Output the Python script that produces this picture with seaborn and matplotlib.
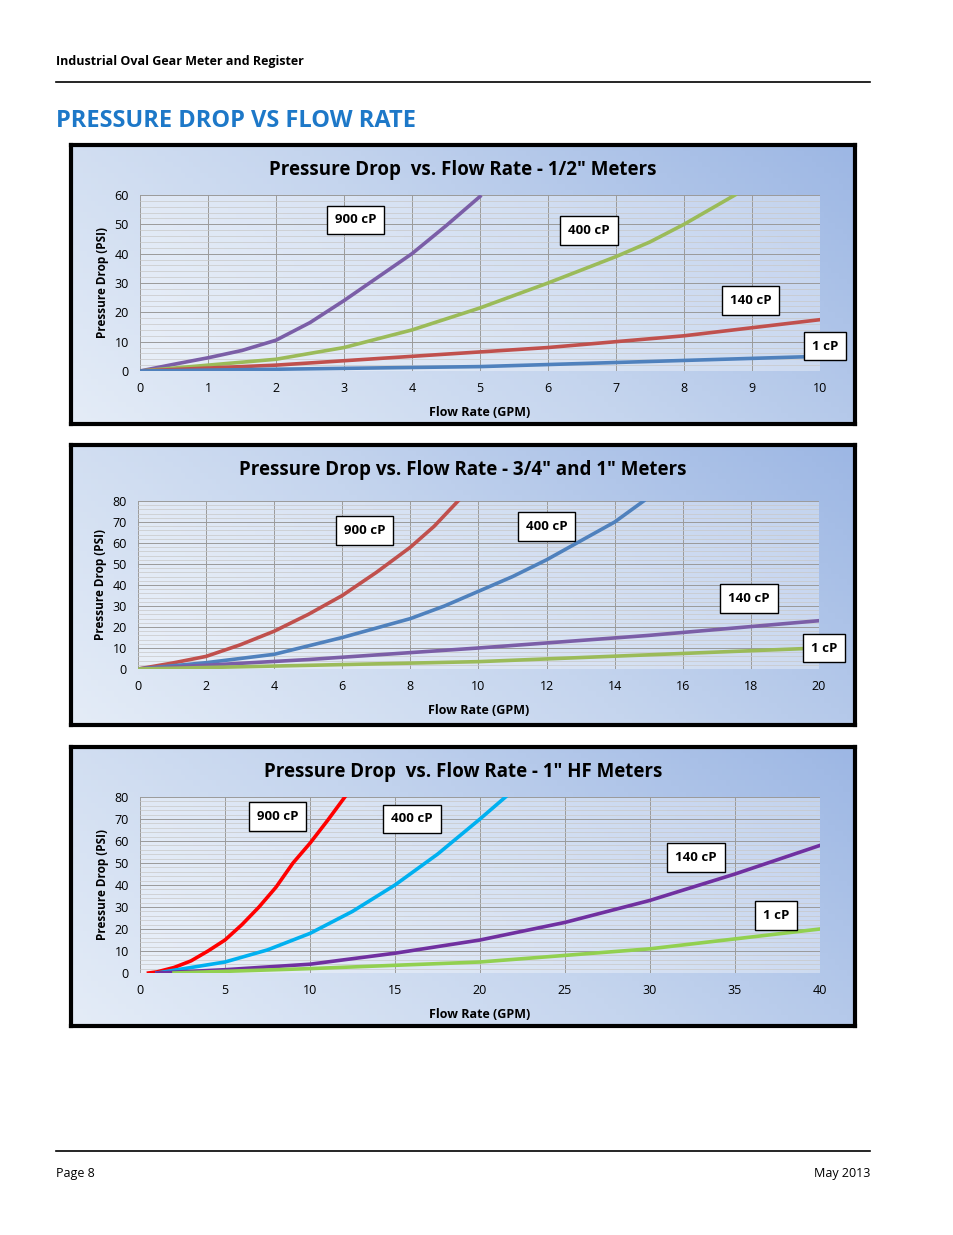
import numpy as np
import pandas as pd
import seaborn as sns
import matplotlib
matplotlib.use("Agg")
import matplotlib.pyplot as plt
from matplotlib.colors import LinearSegmentedColormap

plt.rcParams["font.family"] = "Open Sans"

W, H = 954, 1235
# ---- data ----
c1_titles = "Pressure Drop  vs. Flow Rate - 1/2\" Meters"
c1_900_x = [0, 0.5, 1, 1.5, 2, 2.5, 3, 3.5, 4, 4.5, 5]
c1_900_y = [0, 2.3, 4.5, 7, 10.5, 16.5, 24, 32, 40, 49.5, 59.5]
c1_400_x = [0, 1, 2, 3, 4, 5, 6, 7, 7.5, 8, 8.75]
c1_400_y = [0, 2, 4, 8, 14, 21.5, 30, 39, 44, 50, 60]
c1_140_x = [0, 2, 4, 6, 8, 10]
c1_140_y = [0, 2, 5, 8, 12, 17.5]
c1_1_x = [0, 5, 10]
c1_1_y = [0, 1.5, 5]

c2_title = "Pressure Drop vs. Flow Rate - 3/4\" and 1\" Meters"
c2_900_x = [0, 1, 2, 3, 4, 5, 6, 7, 8, 8.7, 9.4]
c2_900_y = [0, 2.8, 6, 11.5, 18, 26, 35, 46, 58, 68, 80]
c2_400_x = [0, 2, 4, 6, 8, 9, 10, 11, 12, 13, 14, 14.85]
c2_400_y = [0, 3, 7, 15, 24, 30, 37, 44, 52, 61, 70, 80]
c2_140_x = [0, 5, 10, 15, 20]
c2_140_y = [0, 4.5, 10, 16, 23]
c2_1_x = [0, 10, 20]
c2_1_y = [0, 3.5, 10]

c3_title = "Pressure Drop  vs. Flow Rate - 1\" HF Meters"
c3_900_x = [0.5, 1, 2, 3, 4, 5, 6, 7, 8, 9, 10, 11, 12.05]
c3_900_y = [0, 0.5, 2.5, 5.5, 10, 15, 22, 30, 39, 50, 59, 69, 80]
c3_400_x = [1, 3, 5, 7.5, 10, 12.5, 15, 17.5, 20, 21.5]
c3_400_y = [0, 2.5, 5, 10.5, 18, 28, 40, 54, 70, 80]
c3_140_x = [1, 5, 10, 15, 20, 25, 30, 35, 40]
c3_140_y = [0, 1.5, 4, 9, 15, 23, 33, 45, 58]
c3_1_x = [2, 10, 20, 30, 40]
c3_1_y = [0, 2, 5, 11, 20]

fig = plt.figure(figsize=(W/100, H/100), dpi=100)

def rect(x0, y0, x1, y1):
    return [x0/W, 1-y1/H, (x1-x0)/W, (y1-y0)/H]

fig.text(56/W, 1-61/H, "Industrial Oval Gear Meter and Register", fontsize=9, fontweight="bold", va="center")
fig.add_artist(plt.Line2D([56/W, 870/W], [1-82/H]*2, color="black", lw=1.2))
fig.text(56/W, 1-121/H, "PRESSURE DROP VS FLOW RATE", fontsize=17, fontweight="bold", color="#1d78c8", va="center")
fig.add_artist(plt.Line2D([56/W, 870/W], [1-1151/H]*2, color="black", lw=1.2))
fig.text(56/W, 1-1173/H, "Page 8", fontsize=9, va="center")
fig.text(870/W, 1-1173/H, "May 2013", fontsize=9, va="center", ha="right")

cmap = LinearSegmentedColormap.from_list("g", ["#e4ecf7", "#c5d5ee", "#9db7e4"])
grad = np.add.outer(np.linspace(0.3, 0, 50), np.linspace(0, 0.7, 200))

def panel(box, plot, title, xmax, ymax, xstep, ystep, xminor, series, labels):
    x0, y0, x1, y1 = box
    bg = fig.add_axes(rect(x0, y0, x1, y1))
    bg.imshow(grad, cmap=cmap, aspect="auto", extent=[0, 1, 0, 1], vmin=0, vmax=1)
    bg.set_xlim(0, 1); bg.set_ylim(0, 1)
    bg.set_xticks([]); bg.set_yticks([])
    for s in bg.spines.values():
        s.set_linewidth(3); s.set_color("black")
    bg.text(0.5, 1-(25/(y1-y0)), title, ha="center", va="center", fontsize=13.5, fontweight="bold", transform=bg.transAxes)
    ax = fig.add_axes(rect(*plot))
    ax.set_facecolor((1, 1, 1, 0.35))
    for xs, ys, col in series:
        df = pd.DataFrame({"x": xs, "y": ys})
        sns.lineplot(data=df, x="x", y="y", ax=ax, color=col, lw=2.6, sort=False)
    ax.set_xlim(0, xmax); ax.set_ylim(0, ymax)
    ax.set_xticks(np.arange(0, xmax+0.01, xstep))
    ax.set_yticks(np.arange(0, ymax+0.01, ystep))
    ax.set_xticks(np.arange(0, xmax+0.01, xminor), minor=True)
    ax.set_yticks(np.arange(0, ymax+0.01, 2), minor=True)
    ax.grid(True, which="major", color="#9a9a9a", lw=0.7)
    ax.grid(True, which="minor", color="#c8c8c8", lw=0.5)
    ax.tick_params(which="both", length=0, labelsize=9, pad=8)
    ax.set_axisbelow(True)
    for s in ax.spines.values():
        s.set_visible(False)
    ax.set_xlabel("Flow Rate (GPM)", fontsize=9, fontweight="bold", labelpad=8)
    ax.set_ylabel("Pressure Drop (PSI)", fontsize=8.5, fontweight="bold", labelpad=4)
    for txt, lx, ly in labels:
        ax.text(lx, ly, txt, fontsize=9.5, fontweight="bold", ha="center", va="center",
                bbox=dict(boxstyle="square,pad=0.6", fc="white", ec="black", lw=1), zorder=5, clip_on=False)
    return ax

panel((71, 145, 855, 424), (140, 195, 820, 371), c1_titles, 10, 60, 1, 10, 1,
      [(c1_900_x, c1_900_y, "#7b5ea7"), (c1_400_x, c1_400_y, "#9bbb59"),
       (c1_140_x, c1_140_y, "#c0504d"), (c1_1_x, c1_1_y, "#4f81bd")],
      [("900 cP", 3.17, 51.5), ("400 cP", 6.6, 48), ("140 cP", 8.98, 24), ("1 cP", 10.07, 8.5)])

panel((71, 445, 855, 725), (138, 501, 819, 669), c2_title, 20, 80, 2, 10, 2,
      [(c2_900_x, c2_900_y, "#c0504d"), (c2_400_x, c2_400_y, "#4f81bd"),
       (c2_140_x, c2_140_y, "#7b5ea7"), (c2_1_x, c2_1_y, "#9bbb59")],
      [("900 cP", 6.65, 66), ("400 cP", 12.0, 68), ("140 cP", 17.95, 33.5), ("1 cP", 20.15, 10)])

panel((71, 747, 855, 1026), (140, 797, 820, 973), c3_title, 40, 80, 5, 10, 5,
      [(c3_900_x, c3_900_y, "#ff0000"), (c3_400_x, c3_400_y, "#00b0f0"),
       (c3_140_x, c3_140_y, "#7030a0"), (c3_1_x, c3_1_y, "#92d050")],
      [("900 cP", 8.1, 71), ("400 cP", 16.0, 70), ("140 cP", 32.7, 52.5), ("1 cP", 37.4, 26)])

fig.savefig("out.png", dpi=100)
